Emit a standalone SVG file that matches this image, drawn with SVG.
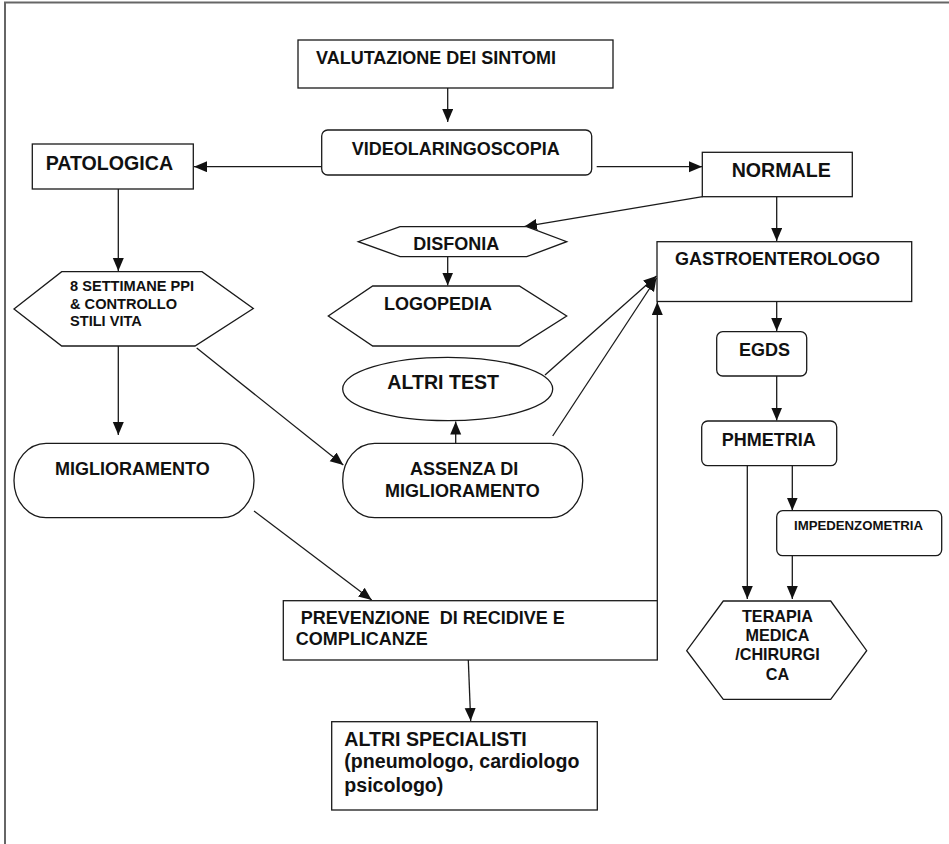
<svg xmlns="http://www.w3.org/2000/svg" width="949" height="844" viewBox="0 0 949 844">
  <style>
    .shape { fill: #ffffff; stroke: #1a1a1a; stroke-width: 1.3; }
    .lbl { font-family: "Liberation Sans", Arial, sans-serif; font-weight: bold; fill: #111111; font-size: 18px; }
    .big { font-size: 19.6px; }
    .mid { font-size: 14.6px; }
    .small { font-size: 13.2px; }
    .ter { font-size: 16.2px; }
    .conn line, .conn polyline { stroke: #1a1a1a; stroke-width: 1.3; fill: none; marker-end: url(#arrow); }
    .frame { stroke: #666666; stroke-width: 2; fill: none; }
  </style>
  <defs>
    <marker id="arrow" markerUnits="userSpaceOnUse" markerWidth="14" markerHeight="12" refX="13" refY="5.5" orient="auto">
      <path d="M0,0 L13,5.5 L0,11 Z" fill="#111111"/>
    </marker>
  </defs>

  <rect width="949" height="844" fill="#ffffff"/>
  <!-- page frame -->
  <path class="frame" d="M5,844 V2.5 H949"/>

  <!-- connectors -->
  <g id="connectors" class="conn">
    <line x1="447.7" y1="88" x2="447.7" y2="122"/>
    <line x1="328" y1="166.7" x2="194" y2="166.7"/>
    <line x1="596.7" y1="166.7" x2="702" y2="166.7"/>
    <line x1="118.3" y1="181.7" x2="118.3" y2="271"/>
    <line x1="118.3" y1="346" x2="118.3" y2="435"/>
    <line x1="196.7" y1="348" x2="343.3" y2="465"/>
    <line x1="254" y1="511" x2="371.7" y2="600"/>
    <line x1="455.7" y1="443" x2="455.7" y2="421.5"/>
    <line x1="545" y1="375" x2="656.5" y2="276"/>
    <line x1="552.7" y1="436" x2="656.5" y2="278"/>
    <line x1="702.7" y1="196.7" x2="524" y2="226.7"/>
    <line x1="447.7" y1="256.7" x2="447.7" y2="285.5"/>
    <line x1="776.7" y1="196.7" x2="776.7" y2="241"/>
    <line x1="657.3" y1="600.7" x2="657.3" y2="302"/>
    <line x1="468.3" y1="660" x2="470.7" y2="721"/>
    <line x1="776.7" y1="301.7" x2="776.7" y2="331"/>
    <line x1="776.7" y1="376" x2="776.7" y2="420.5"/>
    <line x1="792.3" y1="465.7" x2="792.3" y2="510.5"/>
    <line x1="747.3" y1="465.7" x2="747.3" y2="599"/>
    <line x1="792.3" y1="555.7" x2="792.3" y2="599"/>
  </g>

  <g id="valutazione">
    <rect class="shape" x="298" y="40" width="315" height="48"/>
    <text class="lbl" x="316" y="63.5">VALUTAZIONE DEI SINTOMI</text>
  </g>

  <g id="videolaringoscopia">
    <rect class="shape" x="321.7" y="130" width="270" height="45" rx="6"/>
    <text class="lbl" x="351.7" y="155">VIDEOLARINGOSCOPIA</text>
  </g>

  <g id="patologica">
    <rect class="shape" x="32.3" y="144" width="161" height="45"/>
    <text class="lbl big" x="45.7" y="169.5">PATOLOGICA</text>
  </g>

  <g id="normale">
    <rect class="shape" x="702.3" y="152.3" width="150" height="44.4"/>
    <text class="lbl big" x="731.7" y="176.7">NORMALE</text>
  </g>

  <g id="disfonia">
    <polygon class="shape" points="400,226.7 526.7,226.7 566.7,241.7 526.7,256.7 400,256.7 358.3,241.7"/>
    <text class="lbl" x="413.3" y="250">DISFONIA</text>
  </g>

  <g id="logopedia">
    <polygon class="shape" points="372.7,286 519.3,286 566.7,316 519.3,346 372.7,346 328.3,316"/>
    <text class="lbl" x="384" y="310">LOGOPEDIA</text>
  </g>

  <g id="gastroenterologo">
    <rect class="shape" x="657" y="241.7" width="254.7" height="59.8"/>
    <text class="lbl" x="675" y="265">GASTROENTEROLOGO</text>
  </g>

  <g id="ppi">
    <polygon class="shape" points="61.7,271.7 202,271.7 253.3,308.5 195,346 61.7,346 14,309"/>
    <text class="lbl mid" x="70" y="291">8 SETTIMANE PPI</text>
    <text class="lbl mid" x="70" y="308.5">&amp; CONTROLLO</text>
    <text class="lbl mid" x="70" y="326">STILI VITA</text>
  </g>

  <g id="altri-test">
    <ellipse class="shape" cx="447.7" cy="389" rx="105" ry="31.7"/>
    <text class="lbl big" x="387.3" y="389">ALTRI TEST</text>
  </g>

  <g id="miglioramento">
    <rect class="shape" x="14" y="443.3" width="240" height="74.4" rx="32" ry="37"/>
    <text class="lbl" x="55" y="475">MIGLIORAMENTO</text>
  </g>

  <g id="assenza">
    <rect class="shape" x="342.7" y="443.3" width="240" height="74.4" rx="32" ry="37"/>
    <text class="lbl" x="410" y="475">ASSENZA DI</text>
    <text class="lbl" x="385" y="496.7">MIGLIORAMENTO</text>
  </g>

  <g id="egds">
    <rect class="shape" x="716.7" y="331.7" width="90" height="44.3" rx="6"/>
    <text class="lbl" x="739" y="356">EGDS</text>
  </g>

  <g id="phmetria">
    <rect class="shape" x="701.7" y="421" width="135" height="44.7" rx="6"/>
    <text class="lbl" x="721.7" y="445.7">PHMETRIA</text>
  </g>

  <g id="impedenzometria">
    <rect class="shape" x="776.7" y="510.7" width="165" height="45" rx="6"/>
    <text class="lbl small" x="794" y="530">IMPEDENZOMETRIA</text>
  </g>

  <g id="terapia">
    <polygon class="shape" points="723.3,601 830.7,601 866.7,650.7 830.7,699.3 723.3,699.3 686.7,650.7"/>
    <text class="lbl ter" x="777.5" y="621.7" text-anchor="middle">TERAPIA</text>
    <text class="lbl ter" x="777.5" y="641" text-anchor="middle">MEDICA</text>
    <text class="lbl ter" x="777.5" y="660.3" text-anchor="middle">/CHIRURGI</text>
    <text class="lbl ter" x="777.5" y="680" text-anchor="middle">CA</text>
  </g>

  <g id="prevenzione">
    <rect class="shape" x="283.3" y="600.7" width="374" height="59.3"/>
    <text class="lbl" x="300.7" y="624" xml:space="preserve">PREVENZIONE  DI RECIDIVE E</text>
    <text class="lbl" x="295.7" y="645">COMPLICANZE</text>
  </g>

  <g id="altri-specialisti">
    <rect class="shape" x="331.7" y="721.7" width="265.6" height="88.3"/>
    <text class="lbl big" x="344.3" y="745.7">ALTRI SPECIALISTI</text>
    <text class="lbl big" x="344.3" y="768.3">(pneumologo, cardiologo</text>
    <text class="lbl big" x="344.3" y="791.7">psicologo)</text>
  </g>
</svg>
